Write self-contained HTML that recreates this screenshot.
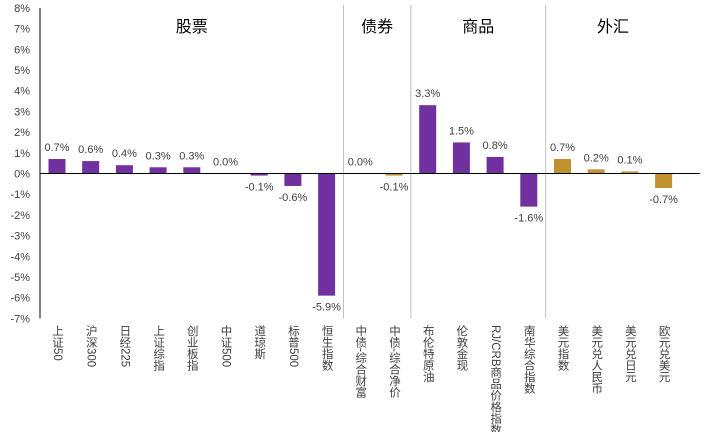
<!DOCTYPE html>
<html><head><meta charset="utf-8"><style>
body{margin:0;background:#fff;}
svg text{font-family:"Liberation Sans","Noto Sans CJK SC",sans-serif;}
.xl{position:absolute;writing-mode:vertical-rl;white-space:nowrap;font-family:"Liberation Sans","Noto Sans CJK SC",sans-serif;font-size:11.5px;color:#404040;line-height:13px;}
</style></head><body>
<div style="position:relative;width:721px;height:432px;overflow:hidden">
<svg id="c" width="721" height="432" style="position:absolute;left:0;top:0"></svg>
<div id="labels"></div>
</div>
<script>
const categories=["上证50","沪深300","日经225","上证综指","创业板指","中证500","道琼斯","标普500","恒生指数","中债-综合财富","中债-综合净价","布伦特原油","伦敦金现","RJ/CRB商品价格指数","南华综合指数","美元指数","美元兑人民币","美元兑日元","欧元兑美元"];
const values=[0.7,0.6,0.4,0.3,0.3,0.0,-0.1,-0.6,-5.9,0.0,-0.1,3.3,1.5,0.8,-1.6,0.7,0.2,0.1,-0.7];
const groupOf=[0,0,0,0,0,0,0,0,0,1,1,2,2,2,2,3,3,3,3];
const groupNames=["股票","债券","商品","外汇"];
const yTicks=[8,7,6,5,4,3,2,1,0,-1,-2,-3,-4,-5,-6,-7];
const NS="http://www.w3.org/2000/svg";
const svg=document.getElementById('c');
const y=v=>173.5-v*20.7;
const x=i=>57+i*33.7;
function mk(t,a,p){const e=document.createElementNS(NS,t);for(const k in a)e.setAttribute(k,a[k]);(p||svg).appendChild(e);return e;}
yTicks.forEach(t=>{
  const e=mk('text',{x:30,y:y(t)+4,'text-anchor':'end','font-size':11,fill:'#404040'});
  e.textContent=t+'%';
  
  
});
for(let i=1;i<categories.length;i++){
  if(groupOf[i]!==groupOf[i-1]){
    const sx=(x(i)+x(i-1))/2;
    const l=mk('line',{x1:sx,x2:sx,y1:5,y2:y(-7),stroke:'#bfbfbf','stroke-width':1});
    
    
  }
}
groupNames.forEach((g,gi)=>{
  const idx=groupOf.map((v,i)=>v===gi?i:-1).filter(i=>i>=0);
  const cx=(x(idx[0])+x(idx[idx.length-1]))/2;
  const e=mk('text',{x:cx,y:32,'text-anchor':'middle','font-size':16,fill:'#000'});
  e.textContent=g;
  
  
});
const colors=['#7030a0','#c0922f','#7030a0','#c0922f'];
const lbl=document.getElementById('labels');
values.forEach((v,i)=>{
  const top=Math.min(y(v),y(0)),h=Math.abs(y(v)-y(0));
  const r=mk('rect',{x:x(i)-8.5,y:top,width:17,height:Math.max(h,0.01),fill:colors[groupOf[i]]});
  
  
  const ty=v>=0?y(v)-8:y(v)+15;
  const t=mk('text',{x:x(i),y:ty,'text-anchor':'middle','font-size':11,fill:'#404040'});
  t.textContent=v.toFixed(1)+'%';
  
  
  const d=document.createElement('div');
  d.className='xl';
  d.style.left=(x(i)-7)+'px';d.style.top='325px';
  d.textContent=categories[i];
  
  
  lbl.appendChild(d);
});
const ax=mk('line',{x1:40,x2:40,y1:8,y2:y(-7),stroke:'#000','stroke-width':1});


const zx=mk('line',{x1:40,x2:700,y1:y(0),y2:y(0),stroke:'#000','stroke-width':1});


</script>
</body></html>
